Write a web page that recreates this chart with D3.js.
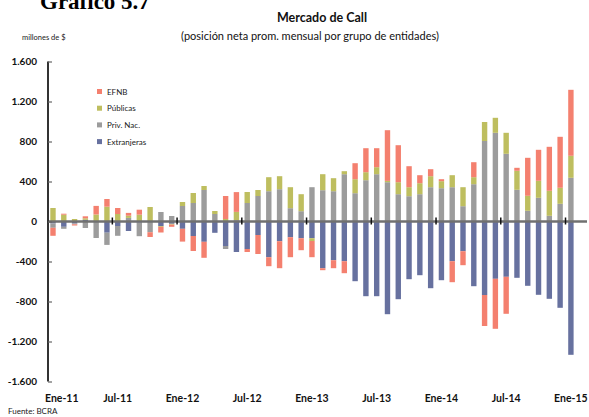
<!DOCTYPE html>
<html>
<head>
<meta charset="utf-8">
<script src="https://cdn.jsdelivr.net/npm/d3@7"></script>
<style>
  body { margin: 0; background: #fff; }
  svg { display: block; font-family: Lato, "Open Sans", sans-serif; }
</style>
</head>
<body>
<svg id="main_svg" width="589" height="417"></svg>
<script>
const svg = d3.select("svg");
const width = 589;
const height = 417;

// ---- data (millones de $) ----
const mesesAbrev = ["Ene", "Feb", "Mar", "Abr", "May", "Jun", "Jul", "Ago", "Sep", "Oct", "Nov", "Dic"];
const meses = d3.range(49).map((i) => mesesAbrev[i % 12] + "-" + (11 + Math.floor(i / 12)));

const extranjeras = [-20, -53, -20, 17, 0, -112, -45, -95, -12, 0, -45, -23,
    -73, -145, -203, -113, -245, -305, -275, -135, -357, -197, -157, -167,
    -167, -467, -387, -397, -597, -747, -747, -927, -777, -577, -537, -667,
    -587, -397, -297, -647, -735, -573, -553, -563, -643, -733, -773, -863,
    -1333];
const privNac = [-43, -20, -8, -65, -165, -122, -98, 36, -135, -107, 95, 55,
    155, 185, 315, 75, -30, 14, 185, 255, 303, 323, 133, 103,
    343, 313, 303, 473, 283, 413, 473, 393, 273, 253, 273, 343,
    333, 343, 153, 373, 805, 887, 677, 317, 107, 237, 57, 177,
    437];
const publicas = [135, 68, 25, 15, 70, 148, 75, 22, 68, 145, -8, -8,
    40, 100, 40, 30, 25, 82, 110, 60, 140, 130, 210, 170,
    -28, 160, 130, 30, 140, 80, 70, 13, 120, 90, 110, 110,
    70, 120, 190, 70, 190, 150, 210, 190, 150, 170, 250, 160,
    220];
const efnb = [-80, 10, -12, 20, 86, 77, 60, 28, 50, -48, -57, -22,
    -128, -150, -160, 0, 230, 198, -30, -190, -90, -270, -200, -120,
    -162, -20, -80, -120, 160, 240, 190, 507, 370, 210, 80, 70,
    20, -210, -140, 150, -310, -500, -370, 30, 380, 310, 440, 510,
    660];

const series = ["Extranjeras", "Priv. Nac.", "Públicas", "EFNB"];
const colores = ["#67719f", "#9c9c9c", "#bebe5f", "#f4806f"];
const yTicks = [1600, 1200, 800, 400, 0, -400, -800, -1200, -1600];

const tabla = meses.map((m, i) => ({
    mes: m,
    "Extranjeras": extranjeras[i],
    "Priv. Nac.": privNac[i],
    "Públicas": publicas[i],
    "EFNB": efnb[i],
}));

// ---- scales ----
const x = d3.scaleBand().domain(meses).range([47.6, 576.3]).paddingInner(0.5).paddingOuter(0.25);
const y = d3.scaleLinear().domain([-1600, 1600]).range([381.5, 61.5]);
const color = d3.scaleOrdinal().domain(series).range(colores);

const stack = d3.stack().keys(series).offset(d3.stackOffsetDiverging);
const capas = stack(tabla);

// ---- bars ----
svg.append("g")
    .selectAll("g")
    .data(capas)
    .join("g")
    .attr("fill", (d) => color(d.key))
    .selectAll("rect")
    .data((d) => d)
    .join("rect")
    .attr("x", (d) => x(d.data.mes))
    .attr("width", x.bandwidth())
    .attr("y", (d) => y(Math.max(d[0], d[1])))
    .attr("height", (d) => Math.abs(y(d[0]) - y(d[1])));

// zero line
svg.append("line")
    .attr("x1", 48).attr("x2", 587)
    .attr("y1", y(0)).attr("y2", y(0))
    .attr("stroke", "#707070")
    .attr("stroke-width", 2.5);

// small category ticks on the zero line, every 6 months
const paso = x.step();
svg.append("g")
    .selectAll("line")
    .data(meses.filter((m, i) => i > 0 && i % 6 === 0))
    .join("line")
    .attr("x1", (m) => x(m) - (paso - x.bandwidth()) / 2)
    .attr("x2", (m) => x(m) - (paso - x.bandwidth()) / 2)
    .attr("y1", y(0) - 4)
    .attr("y2", y(0) + 3)
    .attr("stroke", "#111")
    .attr("stroke-width", 1.5);

// ---- y axis ----
const locale = d3.formatLocale({ decimal: ",", thousands: ".", grouping: [3], currency: ["$", ""], minus: "-" });
const fmt = locale.format(",d");

const yAxis = svg.append("g")
    .attr("transform", "translate(48,0)")
    .call(d3.axisLeft(y).tickValues(yTicks).tickFormat(fmt).tickSize(-4).tickPadding(11));
yAxis.select(".domain").attr("stroke", "#333").attr("stroke-width", 2)
    .attr("d", "M0," + y(1600) + "V" + y(-1600));
yAxis.selectAll(".tick line").attr("stroke", "#666").attr("stroke-width", 1.2);
yAxis.selectAll(".tick text")
    .attr("font-family", "Lato, sans-serif")
    .attr("font-size", 10)
    .attr("font-weight", "bold")
    .attr("fill", "#111");

// ---- x labels ----
const xl = svg.append("g")
    .selectAll("text")
    .data(meses.filter((m, i) => i % 6 === 0))
    .join("text")
    .attr("x", (m) => x(m) + x.bandwidth() / 2)
    .attr("y", 402)
    .attr("text-anchor", "middle")
    .attr("font-size", 10.5)
    .attr("font-weight", "bold")
    .attr("fill", "#111")
    .text((m) => m);
// keep the first label clear of the axis
xl.each(function () {
    const w = this.getComputedTextLength();
    const cx = +this.getAttribute("x");
    if (cx - w / 2 < 45) this.setAttribute("x", 45 + w / 2);
});

// ---- legend ----
const leg = svg.append("g").attr("transform", "translate(97,89)");
const legendOrder = ["EFNB", "Públicas", "Priv. Nac.", "Extranjeras"];
legendOrder.forEach((k, i) => {
    leg.append("rect")
        .attr("x", 0).attr("y", i * 16.7)
        .attr("width", 5).attr("height", 5)
        .attr("fill", color(k));
    leg.append("text")
        .attr("x", 10).attr("y", i * 16.7 + 5.5)
        .attr("font-size", 8)
        .attr("fill", "#222")
        .text(k);
});

// ---- titles ----
svg.append("text")
    .attr("x", 40).attr("y", 9)
    .attr("font-family", "'Liberation Serif', serif")
    .attr("font-size", 23)
    .attr("font-weight", "bold")
    .text("Gráfico 5.7");

svg.append("text")
    .attr("x", 322).attr("y", 22)
    .attr("text-anchor", "middle")
    .attr("font-size", 12.5)
    .attr("font-weight", "bold")
    .attr("fill", "#111")
    .text("Mercado de Call");

svg.append("text")
    .attr("x", 310).attr("y", 40)
    .attr("text-anchor", "middle")
    .attr("font-size", 11)
    .attr("fill", "#111")
    .text("(posición neta prom. mensual por grupo de entidades)");

svg.append("text")
    .attr("x", 22).attr("y", 40)
    .attr("font-size", 7.5)
    .attr("fill", "#222")
    .text("millones de $");

svg.append("text")
    .attr("x", 8).attr("y", 414)
    .attr("font-size", 8)
    .attr("fill", "#222")
    .text("Fuente: BCRA");
</script>
</body>
</html>
